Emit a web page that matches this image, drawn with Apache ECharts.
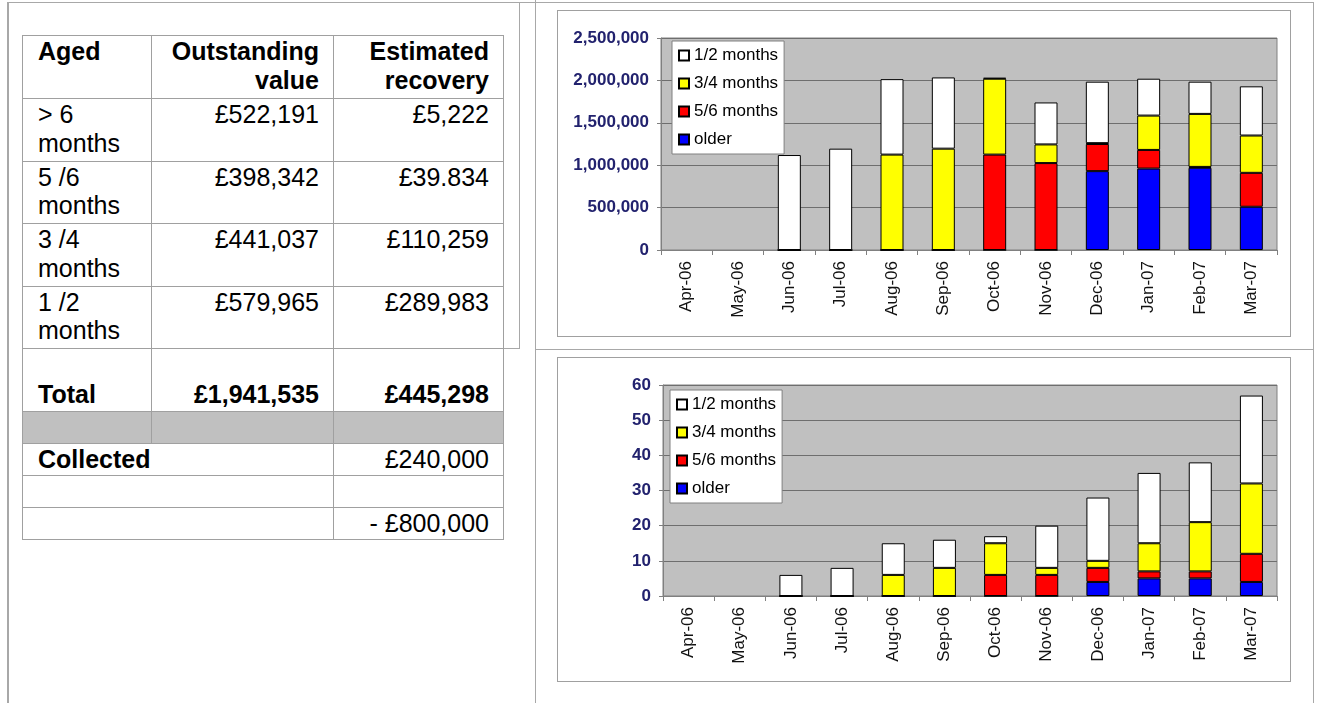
<!DOCTYPE html>
<html>
<head>
<meta charset="utf-8">
<script src="https://cdn.jsdelivr.net/npm/echarts@6/dist/echarts.min.js"></script>
<style>
body { margin: 0; background: #fff; font-family: Arial, "Liberation Sans", sans-serif; }
.ln { position: absolute; background: #a8a8a8; }
.box { position: absolute; border: 1px solid #a0a0a0; box-sizing: border-box; }
#tbl { position: absolute; left: 22px; top: 35px; width: 481px; table-layout: fixed;
       border-collapse: collapse; font-size: 25px; line-height: 28.7px; color: #000; }
#tbl td { border: 1px solid #a0a0a0; padding: 1px 14px 2px 15px; vertical-align: top;
          white-space: pre-line; text-align: right; }
#tbl td.l { text-align: left; }
#tbl .b { font-weight: bold; }
#tbl tr.tot td { vertical-align: bottom; }
#tbl tr.mid td { vertical-align: middle; padding-top: 0; padding-bottom: 0; }
#tbl tr.grey td { background: #c0c0c0; }
</style>
</head>
<body>
<!-- page frame lines -->
<div class="ln" style="left:7px;top:2px;width:2px;height:701px"></div>
<div class="ln" style="left:7px;top:2px;width:1306px;height:1px"></div>
<div class="ln" style="left:519px;top:2px;width:1px;height:347px"></div>
<div class="ln" style="left:503px;top:348px;width:17px;height:1px"></div>
<div class="ln" style="left:535px;top:0;width:1px;height:703px"></div>
<div class="ln" style="left:535px;top:349px;width:778px;height:1px"></div>
<div class="ln" style="left:1313px;top:2px;width:1px;height:701px"></div>

<table id="tbl">
  <colgroup><col style="width:129px"><col style="width:182px"><col style="width:170px"></colgroup>
  <tbody id="tbody"></tbody>
</table>

<div id="chartAmt" class="box" style="left:557px;top:10px;width:734px;height:327px"></div>
<div id="chartCnt" class="box" style="left:557px;top:357px;width:734px;height:325px"></div>

<script>
// 表格数据
const tableHead = ['Aged', 'Outstanding\nvalue', 'Estimated\nrecovery'];
const agedBands = ['> 6\nmonths', '5 /6\nmonths', '3 /4\nmonths', '1 /2\nmonths'];
const outstanding = ['£522,191', '£398,342', '£441,037', '£579,965'];
const recovery = ['£5,222', '£39.834', '£110,259', '£289,983'];
const totalRow = ['Total', '£1,941,535', '£445,298'];
const collectedRow = ['Collected', '£240,000'];
const shortfall = '- £800,000';

// 图表数据
const months = ['Apr-06', 'May-06', 'Jun-06', 'Jul-06', 'Aug-06', 'Sep-06',
                'Oct-06', 'Nov-06', 'Dec-06', 'Jan-07', 'Feb-07', 'Mar-07'];
const seriesNames = ['older', '5/6 months', '3/4 months', '1/2 months'];
const seriesColors = ['#0000ff', '#ff0000', '#ffff00', '#ffffff'];

// 金额 (上图)
const amtOlder = [null, null, 0, 0, 0, 0, 0, 0, 930000, 960000, 970000, 510000];
const amt56    = [null, null, 0, 0, 0, 0, 1125000, 1025000, 320000, 220000, 10000, 400000];
const amt34    = [null, null, 0, 0, 1125000, 1195000, 895000, 220000, 10000, 405000, 625000, 440000];
const amt12    = [null, null, 1120000, 1195000, 890000, 840000, 10000, 495000, 725000, 435000, 380000, 580000];

// 件数 (下图)
const cntOlder = [null, null, 0, 0, 0, 0, 0, 0, 4, 5, 5, 4];
const cnt56    = [null, null, 0, 0, 0, 0, 6, 6, 4, 2, 2, 8];
const cnt34    = [null, null, 0, 0, 6, 8, 9, 2, 2, 8, 14, 20];
const cnt12    = [null, null, 6, 8, 9, 8, 2, 12, 18, 20, 17, 25];

// 构建表格
const tbody = document.getElementById('tbody');
function addRow(cells, cls, height) {
    const tr = document.createElement('tr');
    if (cls) tr.className = cls;
    tr.style.height = height + 'px';
    cells.forEach(c => {
        const td = document.createElement('td');
        td.textContent = c.text;
        if (c.cls) td.className = c.cls;
        if (c.span) td.colSpan = c.span;
        tr.appendChild(td);
    });
    tbody.appendChild(tr);
}
addRow([{ text: tableHead[0], cls: 'l b' }, { text: tableHead[1], cls: 'b' }, { text: tableHead[2], cls: 'b' }], '', 63);
agedBands.forEach((a, i) => {
    addRow([{ text: a, cls: 'l' }, { text: outstanding[i] }, { text: recovery[i] }], '', 62.5);
});
addRow([{ text: totalRow[0], cls: 'l b' }, { text: totalRow[1], cls: 'b' }, { text: totalRow[2], cls: 'b' }], 'tot', 63);
addRow([{ text: '' }, { text: '' }, { text: '' }], 'grey', 32);
addRow([{ text: collectedRow[0], cls: 'l b', span: 2 }, { text: collectedRow[1] }], 'mid', 32);
addRow([{ text: '', span: 2 }, { text: '' }], 'mid', 32);
addRow([{ text: '', span: 2 }, { text: shortfall }], 'mid', 32);

// 图表配置
const FONT = 'Arial, "Liberation Sans", sans-serif';

function buildOption(stacks, yMax, yInterval, grid, legendPos) {
    return {
        animation: false,
        textStyle: { fontFamily: FONT },
        grid: Object.assign({
            show: true,
            backgroundColor: '#c0c0c0',
            borderColor: '#808080',
            borderWidth: 1
        }, grid),
        legend: {
            orient: 'vertical',
            left: legendPos.left,
            top: legendPos.top,
            data: ['1/2 months', '3/4 months', '5/6 months', 'older'],
            backgroundColor: '#ffffff',
            borderColor: '#808080',
            borderWidth: 1,
            padding: [6, 6, 6, 6],
            itemWidth: 10,
            itemHeight: 10,
            itemGap: 11,
            icon: 'rect',
            textStyle: { fontSize: 17, color: '#000', fontFamily: FONT }
        },
        xAxis: {
            type: 'category',
            data: months,
            axisLine: { lineStyle: { color: '#808080', width: 1 } },
            axisTick: { show: true, length: 5, lineStyle: { color: '#808080' } },
            axisLabel: { rotate: 90, margin: 11, fontSize: 17, color: '#111', fontFamily: FONT }
        },
        yAxis: {
            type: 'value',
            min: 0,
            max: yMax,
            interval: yInterval,
            axisLine: { show: true, lineStyle: { color: '#808080' } },
            axisTick: { show: true, length: 4, lineStyle: { color: '#808080' } },
            axisLabel: {
                margin: 12,
                fontSize: 17,
                fontWeight: 'bold',
                color: '#22226e',
                fontFamily: FONT,
                formatter: v => v.toLocaleString('en-US')
            },
            splitLine: { show: true, lineStyle: { color: '#6e6e6e', width: 1 } }
        },
        series: stacks.map((vals, i) => ({
            name: seriesNames[i],
            type: 'bar',
            stack: 'total',
            barWidth: 23,
            data: vals,
            itemStyle: { color: seriesColors[i], borderColor: '#000', borderWidth: 1 }
        }))
    };
}

const chartAmt = echarts.init(document.getElementById('chartAmt'));
chartAmt.setOption(buildOption(
    [amtOlder, amt56, amt34, amt12], 2500000, 500000,
    { left: 103, top: 27, right: 13, bottom: 86 },
    { left: 114, top: 30 }
));

const chartCnt = echarts.init(document.getElementById('chartCnt'));
chartCnt.setOption(buildOption(
    [cntOlder, cnt56, cnt34, cnt12], 60, 10,
    { left: 105, top: 27, right: 13, bottom: 85 },
    { left: 112, top: 32 }
));
</script>
</body>
</html>
